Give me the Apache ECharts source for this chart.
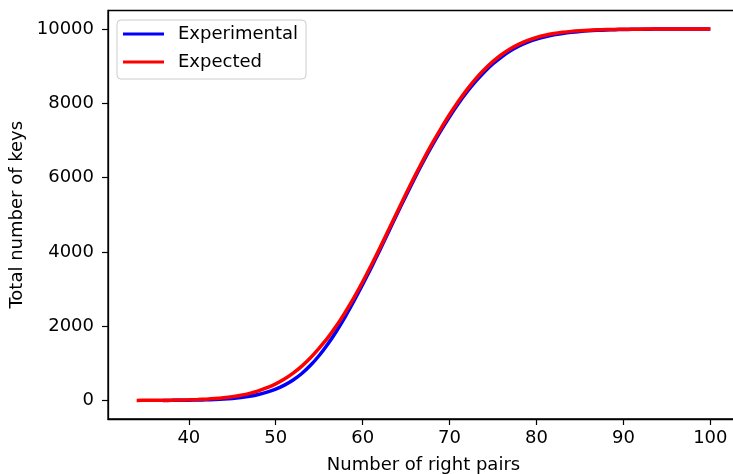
<!DOCTYPE html>
<html>
<head>
<meta charset="utf-8">
<script src="https://cdn.jsdelivr.net/npm/echarts@6/dist/echarts.min.js"></script>
<style>
  html, body { margin: 0; padding: 0; background: #fff; }
  #main { width: 733px; height: 474px; }
</style>
</head>
<body>
<div id="main"></div>
<script>
var chartDom = document.getElementById("main");
var myChart = echarts.init(chartDom);
var option;

// expected curve, x = 34..100
const expectedStart = 34;
const expectedKeys = [
  1, 2, 3, 5, 7, 11, 16, 24, 35, 50, 71, 100, 139, 190, 258, 342, 446, 576,
  735, 925, 1150, 1410, 1690, 2015, 2380, 2770, 3195, 3645, 4115, 4600, 5090,
  5570, 6040, 6490, 6920, 7320, 7700, 8050, 8370, 8660, 8910, 9130, 9315, 9470,
  9595, 9695, 9772, 9832, 9878, 9912, 9938, 9956, 9970, 9980, 9987, 9991, 9994,
  9996, 9998, 9999, 10000, 10000, 10000, 10000, 10000, 10000, 10000,
];

// experimental curve, x = 37..100
const experimentalStart = 37;
const experimentalKeys = [
  1, 2, 4, 7, 11, 17, 26, 38, 55, 80, 112, 158, 222, 305, 412, 550, 725, 945,
  1210, 1520, 1870, 2260, 2680, 3120, 3580, 4060, 4550, 5040, 5520, 5990, 6440,
  6865, 7265, 7640, 7990, 8305, 8590, 8845, 9065, 9255, 9415, 9545, 9650, 9730,
  9795, 9845, 9882, 9912, 9935, 9953, 9966, 9976, 9984, 9989, 9993, 9996, 9998,
  9999, 10000, 10000, 10000, 10000, 10000, 10000,
];

const xTicks = [40, 50, 60, 70, 80, 90, 100];
const yTicks = [0, 2000, 4000, 6000, 8000, 10000];

function toPairs(start, values) {
  return values.map(function (v, i) {
    return [start + i, v];
  });
}

const font = "DejaVu Sans";

option = {
  animation: false,
  textStyle: { fontFamily: font, color: "#000" },
  grid: {
    left: 108,
    right: -6,
    top: 10.5,
    bottom: 55,
    outerBoundsMode: "none",
    containLabel: false,
    show: true,
    borderColor: "#000",
    borderWidth: 1.3,
    backgroundColor: "transparent",
  },
  legend: {
    orient: "vertical",
    left: 117,
    top: 20,
    icon: "rect",
    itemWidth: 41,
    itemHeight: 3,
    itemGap: 10,
    padding: [5, 8, 8, 6],
    borderColor: "#cccccc",
    borderWidth: 1,
    borderRadius: 4,
    backgroundColor: "rgba(255,255,255,0.8)",
    textStyle: {
      fontFamily: font,
      fontSize: 18,
      color: "#000",
      padding: [0, 0, 0, 9],
    },
    data: ["Experimental", "Expected"],
  },
  xAxis: {
    type: "value",
    min: 30.7,
    max: 103.3,
    name: "Number of right pairs",
    nameLocation: "middle",
    nameGap: 37,
    nameTextStyle: { fontFamily: font, fontSize: 18, color: "#000" },
    splitLine: { show: false },
    axisLine: { show: true, onZero: false, lineStyle: { color: "#000", width: 1.3 } },
    axisTick: {
      show: true,
      length: 6,
      customValues: xTicks,
      lineStyle: { color: "#000", width: 1.2 },
    },
    axisLabel: {
      customValues: xTicks,
      fontFamily: font,
      fontSize: 18,
      color: "#000",
      margin: 10,
    },
  },
  yAxis: {
    type: "value",
    min: -500,
    max: 10500,
    name: "Total number of keys",
    nameLocation: "middle",
    nameGap: 81,
    nameTextStyle: { fontFamily: font, fontSize: 18, color: "#000" },
    splitLine: { show: false },
    axisLine: { show: true, onZero: false, lineStyle: { color: "#000", width: 1.3 } },
    axisTick: {
      show: true,
      length: 6,
      customValues: yTicks,
      lineStyle: { color: "#000", width: 1.2 },
    },
    axisLabel: {
      customValues: yTicks,
      formatter: function (v) {
        return String(v);
      },
      fontFamily: font,
      fontSize: 18,
      color: "#000",
      margin: 14,
    },
  },
  series: [
    {
      name: "Experimental",
      type: "line",
      showSymbol: false,
      symbol: "none",
      smooth: 0.3,
      color: "#0000ff",
      lineStyle: { width: 3.5, color: "#0000ff" },
      data: toPairs(experimentalStart, experimentalKeys),
    },
    {
      name: "Expected",
      type: "line",
      showSymbol: false,
      symbol: "none",
      smooth: 0.3,
      color: "#ff0000",
      lineStyle: { width: 3.5, color: "#ff0000" },
      data: toPairs(expectedStart, expectedKeys),
    },
  ],
};

option && myChart.setOption(option);
</script>
</body>
</html>
